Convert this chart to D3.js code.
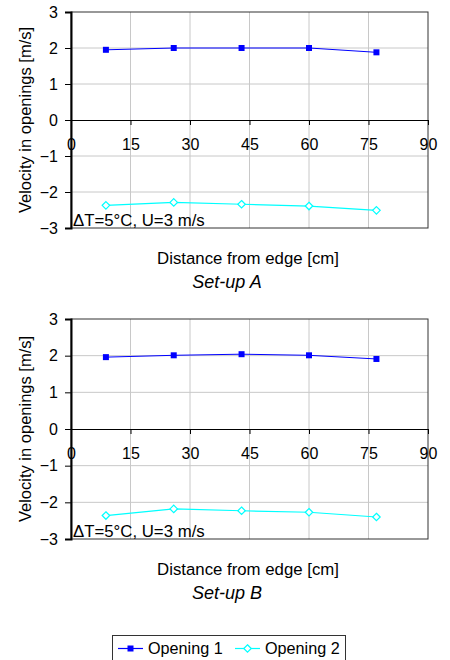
<!DOCTYPE html>
<html><head><meta charset="utf-8">
<script src="https://cdn.jsdelivr.net/npm/d3@7"></script>
<style>
html,body{margin:0;padding:0;background:#fff;}
svg{display:block;font-family:"Liberation Sans",Arial,sans-serif;}
</style></head>
<body>
<svg id="c" width="450" height="660"></svg>
<script>
const distances = [8.8, 25.9, 43.0, 60.0, 77.0];
const setupA_opening1 = [1.95, 2.00, 2.00, 2.00, 1.88];
const setupA_opening2 = [-2.37, -2.29, -2.34, -2.39, -2.51];
const setupB_opening1 = [1.96, 2.01, 2.04, 2.01, 1.91];
const setupB_opening2 = [-2.36, -2.18, -2.23, -2.27, -2.40];
const xTicks = [0, 15, 30, 45, 60, 75, 90];
const yTicks = [-3, -2, -1, 0, 1, 2, 3];
const seriesNames = ["Opening 1", "Opening 2"];
const panelTitles = ["Set-up A", "Set-up B"];
const annotation = "\u0394T=5\u00B0C, U=3 m/s";
const xTitle = "Distance from edge [cm]";
const yTitle = "Velocity in openings [m/s]";

const colors = ["#0000ff", "#00ffff"];
const svg = d3.select("#c");

const panels = [
  {top: 12, bottom: 228, title: panelTitles[0], s1: setupA_opening1, s2: setupA_opening2},
  {top: 319, bottom: 539, title: panelTitles[1], s1: setupB_opening1, s2: setupB_opening2}
];
const left = 71, right = 428;

panels.forEach(p => {
  const g = svg.append("g");
  const x = d3.scaleLinear().domain([0, 90]).range([left, right]);
  const y = d3.scaleLinear().domain([-3, 3]).range([p.bottom, p.top]);

  // grid
  g.selectAll(".hg").data(yTicks.filter(t => t !== 0 && t !== 3 && t !== -3)).enter().append("line")
    .attr("x1", left).attr("x2", right).attr("y1", d => y(d)).attr("y2", d => y(d))
    .attr("stroke", "#c8c8c8").attr("stroke-width", 1);
  g.selectAll(".vg").data(xTicks.filter(t => t !== 0 && t !== 90)).enter().append("line")
    .attr("x1", d => x(d)).attr("x2", d => x(d)).attr("y1", p.top).attr("y2", p.bottom)
    .attr("stroke", "#c8c8c8").attr("stroke-width", 1);

  // frame
  g.append("rect").attr("x", left).attr("y", p.top).attr("width", right - left).attr("height", p.bottom - p.top)
    .attr("fill", "none").attr("stroke", "#333").attr("stroke-width", 1);

  // y axis
  const ya = d3.axisLeft(y).tickValues(yTicks).tickSize(6).tickPadding(7).tickFormat(d3.format("d"));
  const yg = g.append("g").attr("transform", `translate(${left},0)`).call(ya);
  yg.select(".domain").attr("stroke", "#000").attr("stroke-width", 2);
  yg.selectAll(".tick line").attr("stroke", "#000");
  yg.selectAll(".tick text").attr("font-size", 16).attr("font-family", "Liberation Sans, Arial, sans-serif").attr("fill", "#000");

  // x axis at y=0
  const xa = d3.axisBottom(x).tickValues(xTicks).tickSize(5).tickPadding(14).tickFormat(d3.format("d"));
  const xg = g.append("g").attr("transform", `translate(0,${y(0)})`).call(xa);
  xg.select(".domain").attr("stroke", "#000").attr("stroke-width", 1);
  xg.selectAll(".tick line").attr("stroke", "#000");
  xg.selectAll(".tick text").attr("font-size", 16).attr("font-family", "Liberation Sans, Arial, sans-serif").attr("fill", "#000");

  // lines
  const line = d3.line().x((d, i) => x(distances[i])).y(d => y(d));
  g.append("path").datum(p.s1).attr("d", line).attr("fill", "none").attr("stroke", colors[0]).attr("stroke-width", 1);
  g.append("path").datum(p.s2).attr("d", line).attr("fill", "none").attr("stroke", colors[1]).attr("stroke-width", 1.2);

  g.selectAll(".m1").data(p.s1).enter().append("rect")
    .attr("x", (d, i) => x(distances[i]) - 3).attr("y", d => y(d) - 3)
    .attr("width", 6).attr("height", 6).attr("fill", colors[0]);
  const sym = d3.symbol().type(d3.symbolDiamond2).size(36);
  g.selectAll(".m2").data(p.s2).enter().append("path")
    .attr("d", sym).attr("transform", (d, i) => `translate(${x(distances[i])},${y(d)})`)
    .attr("fill", "#fff").attr("stroke", colors[1]).attr("stroke-width", 1.2);

  // annotation
  g.append("text").attr("x", 73).attr("y", p.bottom - 2).attr("font-size", 16.8).text(annotation);

  // axis titles
  g.append("text").attr("transform", `translate(31,${(p.top + p.bottom) / 2}) rotate(-90)`)
    .attr("text-anchor", "middle").attr("font-size", 16.5).text(yTitle);
  g.append("text").attr("x", 248).attr("y", p.bottom + 36).attr("text-anchor", "middle")
    .attr("font-size", 16.8).text(xTitle);
  g.append("text").attr("x", 227).attr("y", p.bottom + 60).attr("text-anchor", "middle")
    .attr("font-size", 18).attr("font-style", "italic").text(p.title);
});

// legend
const lg = svg.append("g");
lg.append("rect").attr("x", 112.5).attr("y", 635.5).attr("width", 233).attr("height", 30)
  .attr("fill", "#fff").attr("stroke", "#333").attr("stroke-width", 1);
const legItems = [{x: 118, c: colors[0]}, {x: 235, c: colors[1]}];
legItems.forEach((it, i) => {
  lg.append("line").attr("x1", it.x).attr("x2", it.x + 25).attr("y1", 648.5).attr("y2", 648.5)
    .attr("stroke", it.c).attr("stroke-width", 1.2);
  if (i === 0) {
    lg.append("rect").attr("x", it.x + 12.5 - 3).attr("y", 648.5 - 3).attr("width", 6).attr("height", 6).attr("fill", it.c);
  } else {
    lg.append("path").attr("d", d3.symbol().type(d3.symbolDiamond2).size(36))
      .attr("transform", `translate(${it.x + 12.5},648.5)`).attr("fill", "#fff").attr("stroke", it.c).attr("stroke-width", 1.2);
  }
  lg.append("text").attr("x", it.x + 30).attr("y", 654).attr("font-size", 16.2).text(seriesNames[i]);
});
</script>
</body></html>
